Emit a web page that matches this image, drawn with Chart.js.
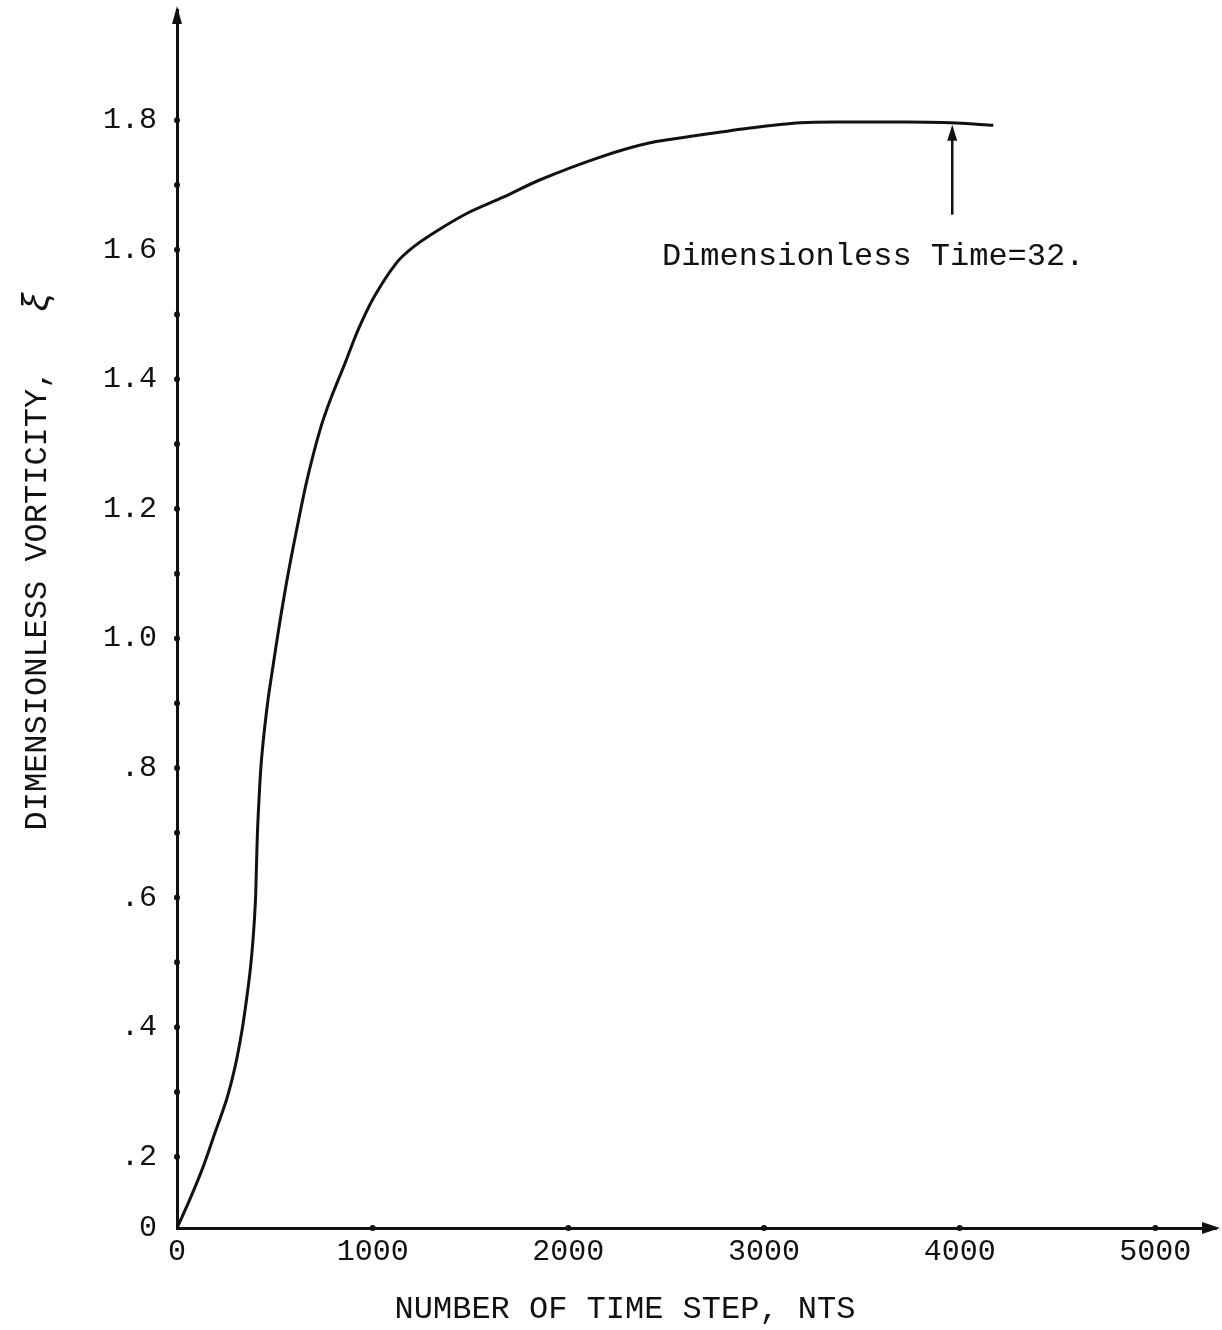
<!DOCTYPE html>
<html>
<head>
<meta charset="utf-8">
<script src="https://cdn.jsdelivr.net/npm/chart.js@4/dist/chart.umd.min.js"></script>
<style>
  html, body { margin: 0; padding: 0; background: #fff; }
  #wrap { width: 1222px; height: 1330px; }
</style>
</head>
<body>
<div id="wrap"><canvas id="vortChart"></canvas></div>
<script>
// vorticity growth vs number of time steps
const nts = [0, 64, 133, 194, 253, 296, 330, 355, 376, 391, 401, 406, 411, 419, 429, 445, 465, 480, 519, 562, 611, 664, 731, 787, 859, 925, 1007, 1120, 1207, 1334, 1488, 1667, 1856, 2163, 2418, 2674, 2929, 3185, 3441, 3696, 3952, 4172];
const vorticity = [0.09, 0.133, 0.184, 0.237, 0.288, 0.338, 0.391, 0.442, 0.493, 0.545, 0.596, 0.647, 0.7, 0.751, 0.802, 0.854, 0.905, 0.936, 1.013, 1.09, 1.167, 1.244, 1.322, 1.371, 1.425, 1.476, 1.527, 1.579, 1.604, 1.63, 1.657, 1.681, 1.708, 1.743, 1.765, 1.777, 1.788, 1.796, 1.797, 1.797, 1.796, 1.792];

// axis ticks (the "0" sits where the axes cross)
const xTicks = [0, 1000, 2000, 3000, 4000, 5000];
const yTickValues = [0.09, 0.2, 0.4, 0.6, 0.8, 1.0, 1.2, 1.4, 1.6, 1.8];
const yTickLabels = ["0", ".2", ".4", ".6", ".8", "1.0", "1.2", "1.4", "1.6", "1.8"];
const yDots = [0.2, 0.3, 0.4, 0.5, 0.6, 0.7, 0.8, 0.9, 1.0, 1.1, 1.2, 1.3, 1.4, 1.5, 1.6, 1.7, 1.8];

// arrow pointing at the end state
const markerNts = 3962;
const markerFrom = 1.654;
const markerTo = 1.793;
const markerText = "Dimensionless Time=32.";
const markerTextAt = [3558, 1.589];

const FONT = '"Courier New", "Liberation Mono", monospace';
const INK = "#111";

const extras = {
  id: "extras",
  afterDraw(chart) {
    const { ctx, chartArea: a, scales: { x, y } } = chart;
    ctx.save();
    ctx.fillStyle = INK;
    ctx.strokeStyle = INK;

    // dots along the axes
    xTicks.slice(1).forEach(v => {
      ctx.beginPath();
      ctx.arc(x.getPixelForValue(v), a.bottom, 3, 0, Math.PI * 2);
      ctx.fill();
    });
    yDots.forEach(v => {
      ctx.beginPath();
      ctx.arc(a.left, y.getPixelForValue(v), 3, 0, Math.PI * 2);
      ctx.fill();
    });

    // axis arrowheads
    ctx.beginPath();
    ctx.moveTo(a.left, a.top - 4);
    ctx.lineTo(a.left - 5, a.top + 14);
    ctx.lineTo(a.left + 5, a.top + 14);
    ctx.closePath();
    ctx.fill();
    ctx.beginPath();
    ctx.moveTo(a.right + 4, a.bottom);
    ctx.lineTo(a.right - 14, a.bottom - 6);
    ctx.lineTo(a.right - 14, a.bottom + 6);
    ctx.closePath();
    ctx.fill();

    // marker arrow
    const mx = x.getPixelForValue(markerNts);
    const my0 = y.getPixelForValue(markerFrom);
    const my1 = y.getPixelForValue(markerTo);
    ctx.lineWidth = 2.5;
    ctx.beginPath();
    ctx.moveTo(mx, my0);
    ctx.lineTo(mx, my1 + 10);
    ctx.stroke();
    ctx.beginPath();
    ctx.moveTo(mx, my1);
    ctx.lineTo(mx - 5, my1 + 16);
    ctx.lineTo(mx + 5, my1 + 16);
    ctx.closePath();
    ctx.fill();

    ctx.font = "32px " + FONT;
    ctx.textAlign = "center";
    ctx.textBaseline = "middle";
    ctx.fillText(markerText, x.getPixelForValue(markerTextAt[0]), y.getPixelForValue(markerTextAt[1]));

    // axis titles
    ctx.fillText("NUMBER OF TIME STEP, NTS", 625, 1310);
    ctx.translate(38, 0);
    ctx.rotate(-Math.PI / 2);
    ctx.fillText("DIMENSIONLESS VORTICITY,", -600, 0);
    ctx.font = "italic 36px " + FONT;
    ctx.fillText("\u03BE", -302, 0);
    ctx.restore();
  }
};

new Chart(document.getElementById("vortChart"), {
  type: "line",
  data: {
    datasets: [{
      data: nts.map((v, i) => ({ x: v, y: vorticity[i] })),
      borderColor: INK,
      borderWidth: 3,
      pointRadius: 0,
      tension: 0.3,
      fill: false
    }]
  },
  options: {
    responsive: true,
    maintainAspectRatio: false,
    devicePixelRatio: 1,
    animation: false,
    layout: { padding: { left: 0, right: 6, top: 10, bottom: 0 } },
    plugins: { legend: { display: false }, tooltip: { enabled: false } },
    scales: {
      x: {
        type: "linear",
        min: 0,
        max: 5310,
        afterBuildTicks: s => { s.ticks = xTicks.map(v => ({ value: v })); },
        afterFit: s => { s.height = 102; s.paddingLeft = 0; s.paddingRight = 0; },
        grid: { drawOnChartArea: false, drawTicks: false },
        border: { color: INK, width: 3 },
        ticks: {
          color: INK,
          font: { family: FONT, size: 30 },
          padding: 6,
          maxRotation: 0,
          autoSkip: false,
          callback: v => String(v)
        }
      },
      y: {
        type: "linear",
        min: 0.09,
        max: 1.97,
        afterBuildTicks: s => { s.ticks = yTickValues.map(v => ({ value: v })); },
        afterFit: s => { s.width = 177; s.paddingTop = 0; s.paddingBottom = 0; },
        grid: { drawOnChartArea: false, drawTicks: false },
        border: { color: INK, width: 3 },
        ticks: {
          color: INK,
          font: { family: FONT, size: 30 },
          padding: 20,
          autoSkip: false,
          callback: (v, i) => yTickLabels[i]
        }
      }
    }
  },
  plugins: [extras]
});
</script>
</body>
</html>
